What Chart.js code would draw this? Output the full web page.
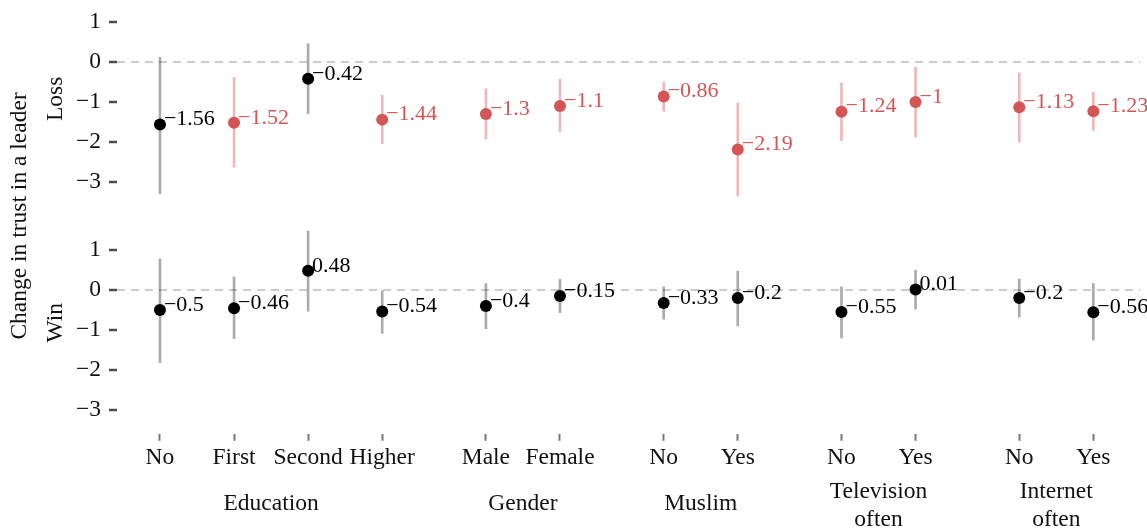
<!DOCTYPE html>
<html>
<head>
<meta charset="utf-8">
<script src="https://cdn.jsdelivr.net/npm/chart.js@4.4.0/dist/chart.umd.min.js"></script>
<style>
  html, body { margin: 0; padding: 0; background: #fff; }
  #wrap { position: relative; width: 1147px; height: 530px; }
</style>
</head>
<body>
<div id="wrap"><canvas id="c"></canvas></div>
<script>
// Subgroups along the x axis and where each sits on the linear scale
const categories = ['No', 'First', 'Second', 'Higher', 'Male', 'Female', 'No', 'Yes', 'No', 'Yes', 'No', 'Yes'];
const positions = [0, 1, 2, 3, 4.4, 5.4, 6.8, 7.8, 9.2, 10.2, 11.6, 12.6];
const groups = [['Education'], ['Gender'], ['Muslim'], ['Television', 'often'], ['Internet', 'often']];
const groupCenters = [1.5, 4.9, 7.3, 9.7, 12.1];

// Loss panel: estimate with interval
const lossEstimate = [-1.56, -1.52, -0.42, -1.44, -1.3, -1.1, -0.86, -2.19, -1.24, -1, -1.13, -1.23];
const lossLower = [-3.29, -2.63, -1.29, -2.04, -1.93, -1.75, -1.23, -3.35, -1.96, -1.88, -2.0, -1.71];
const lossUpper = [0.12, -0.38, 0.46, -0.83, -0.67, -0.43, -0.5, -1.02, -0.52, -0.13, -0.27, -0.75];

// Win panel: estimate with interval
const winEstimate = [-0.5, -0.46, 0.48, -0.54, -0.4, -0.15, -0.33, -0.2, -0.55, 0.01, -0.2, -0.56];
const winLower = [-1.82, -1.22, -0.53, -1.09, -0.97, -0.57, -0.73, -0.9, -1.2, -0.48, -0.68, -1.26];
const winUpper = [0.78, 0.33, 1.47, 0.0, 0.16, 0.27, 0.08, 0.47, 0.08, 0.49, 0.27, 0.16];

const yTicks = [-3, -2, -1, 0, 1];

// Visible value window of each panel
const lossRange = [-3.95, 1.0];
const winRange = [-3.6, 1.75];

const FONT = "'Liberation Serif', 'Times New Roman', serif";
const INK = '#111';
const RED = '#d35555';
const RED_BAR = 'rgba(211, 85, 85, 0.42)';
const GREY_BAR = 'rgba(0, 0, 0, 0.33)';

const excludesZero = (lo, hi) => lo > 0 || hi < 0;
const fmt = v => (v < 0 ? '\u2212' : '') + String(Math.abs(v));

function panelSets(est, lo, hi, axis) {
  const sig = est.map((_, i) => excludesZero(lo[i], hi[i]));
  return [
    {
      type: 'bar',
      yAxisID: axis,
      data: positions.map((x, i) => ({ x: x, y: [lo[i], hi[i]] })),
      backgroundColor: sig.map(s => (s ? RED_BAR : GREY_BAR)),
      borderWidth: 0,
      barThickness: 2,
      grouped: false,
      order: 2
    },
    {
      type: 'scatter',
      yAxisID: axis,
      data: positions.map((x, i) => ({ x: x, y: est[i] })),
      pointRadius: 6,
      pointHoverRadius: 6,
      pointBackgroundColor: sig.map(s => (s ? RED : '#000')),
      pointBorderWidth: 0,
      showLine: false,
      valueLabels: true,
      labelColors: sig.map(s => (s ? RED : '#000')),
      order: 1
    }
  ];
}

// Value text beside each point, group names under the axis, rotated titles
const annotate = {
  id: 'annotate',
  afterDatasetsDraw(chart) {
    const ctx = chart.ctx;
    ctx.save();
    ctx.font = '22px ' + FONT;
    ctx.textAlign = 'left';
    ctx.textBaseline = 'middle';
    chart.data.datasets.forEach((ds, di) => {
      if (!ds.valueLabels) return;
      const meta = chart.getDatasetMeta(di);
      meta.data.forEach((pt, i) => {
        ctx.fillStyle = ds.labelColors[i];
        ctx.fillText(fmt(ds.data[i].y), pt.x + 4, pt.y - 5);
      });
    });
    ctx.restore();
  },
  afterDraw(chart) {
    const ctx = chart.ctx;
    const area = chart.chartArea;
    const sx = chart.scales.x, sLoss = chart.scales.yLoss, sWin = chart.scales.yWin;
    ctx.save();
    ctx.font = '23.5px ' + FONT;
    ctx.fillStyle = INK;
    ctx.textAlign = 'center';
    ctx.textBaseline = 'middle';
    groups.forEach((lines, i) => {
      const x = sx.getPixelForValue(groupCenters[i]);
      if (lines.length === 1) {
        ctx.fillText(lines[0], x, area.bottom + 70);
      } else {
        lines.forEach((t, k) => ctx.fillText(t, x, area.bottom + 58 + k * 28));
      }
    });
    const rot = (text, x, y) => {
      ctx.save();
      ctx.translate(x, y);
      ctx.rotate(-Math.PI / 2);
      ctx.fillText(text, 0, 0);
      ctx.restore();
    };
    rot('Change in trust in a leader', 20, (area.top + area.bottom) / 2 - 12);
    rot('Loss', 56, sLoss.getPixelForValue(-0.92));
    rot('Win', 56, sWin.getPixelForValue(-0.82));
    ctx.restore();
  }
};

function yAxis(range) {
  return {
    type: 'linear',
    position: 'left',
    stack: 'panels',
    stackWeight: range[1] - range[0],
    min: range[0],
    max: range[1],
    afterBuildTicks: s => { s.ticks = yTicks.map(v => ({ value: v })); },
    ticks: {
      font: { family: FONT, size: 23.5 },
      color: INK,
      padding: 8,
      autoSkip: false,
      callback: v => (v < 0 ? '\u2212' + Math.abs(v) : String(v))
    },
    grid: {
      color: c => (c.tick && c.tick.value === 0 ? '#cccccc' : 'rgba(0,0,0,0)'),
      lineWidth: 2,
      tickColor: '#4d4d4d',
      tickWidth: 2.5,
      tickLength: 8
    },
    border: { display: false, dash: [8, 6] }
  };
}

new Chart(document.getElementById('c'), {
  type: 'bar',
  data: {
    datasets: [
      ...panelSets(lossEstimate, lossLower, lossUpper, 'yLoss'),
      ...panelSets(winEstimate, winLower, winUpper, 'yWin')
    ]
  },
  options: {
    responsive: true,
    maintainAspectRatio: false,
    animation: false,
    events: [],
    layout: { padding: { left: 68, right: 7, top: 0, bottom: 55 } },
    plugins: { legend: { display: false }, tooltip: { enabled: false } },
    scales: {
      x: {
        type: 'linear',
        position: 'bottom',
        offset: false,
        min: -0.58,
        max: 13.23,
        afterBuildTicks: s => { s.ticks = positions.map(v => ({ value: v })); },
        ticks: {
          font: { family: FONT, size: 23.5 },
          color: INK,
          padding: 3,
          maxRotation: 0,
          autoSkip: false,
          callback: (v, i) => categories[i]
        },
        grid: { offset: false, drawOnChartArea: false, tickColor: '#777', tickWidth: 2, tickLength: 7 },
        border: { display: false }
      },
      yWin: yAxis(winRange),
      yLoss: yAxis(lossRange)
    }
  },
  plugins: [annotate]
});
</script>
</body>
</html>
